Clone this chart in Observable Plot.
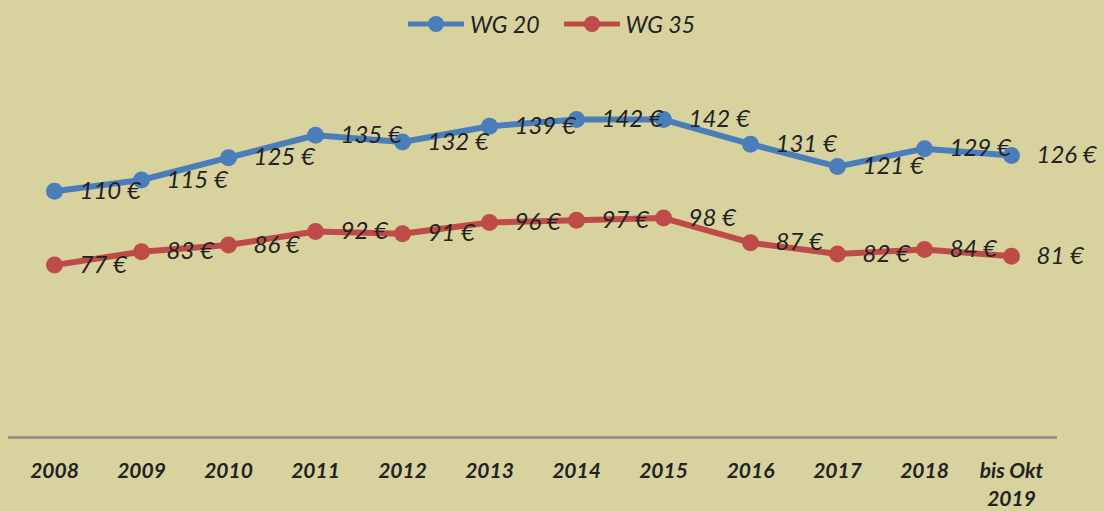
<!DOCTYPE html>
<html><head><meta charset="utf-8">
<script src="https://cdn.jsdelivr.net/npm/d3@7"></script>
<script src="https://cdn.jsdelivr.net/npm/@observablehq/plot@0.6"></script>
<style>
html,body{margin:0;padding:0;background:#d8d29e;}
#wrap{position:relative;width:1104px;height:511px;overflow:hidden;}
#legend{position:absolute;top:10px;left:408px;display:flex;align-items:center;font-family:Lato,sans-serif;font-style:italic;font-size:23px;color:#222;}
#legend .it{display:flex;align-items:center;margin-right:24px;}
#legend svg{margin-right:6px;}
</style></head>
<body><div id="wrap"><div id="legend"></div></div>
<script>
const years = ["2008","2009","2010","2011","2012","2013","2014","2015","2016","2017","2018","bis Okt\n2019"];
const wg20 = [110,115,125,135,132,139,142,142,131,121,129,126];
const wg35 = [77,83,86,92,91,96,97,98,87,82,84,81];
const seriesNames = ["WG 20","WG 35"];
const seriesColors = ["#4a7ebb","#be4b48"];

const data = [];
[wg20, wg35].forEach((vals, s) => vals.forEach((v, i) => data.push({series: seriesNames[s], year: years[i], value: v})));

const chart = Plot.plot({
  width: 1104, height: 511,
  marginLeft: 8, marginRight: 47, marginTop: 34, marginBottom: 74,
  style: {background: "transparent", fontFamily: "Lato, sans-serif"},
  x: {type: "point", domain: years, padding: 0.5},
  y: {domain: [0, 180], axis: null},
  color: {domain: seriesNames, range: seriesColors},
  marks: [
    Plot.ruleY([0], {stroke: "#8a8a8a", strokeWidth: 2.5}),
    Plot.axisX({tickSize: 0, tickPadding: 20, fontSize: 21, fontWeight: "bold", fontStyle: "italic", fill: "#222", lineHeight: 1.35, label: null}),
    Plot.line(data, {x: "year", y: "value", z: "series", stroke: "series", strokeWidth: 6}),
    Plot.dot(data, {x: "year", y: "value", fill: "series", r: 8.5}),
    Plot.text(data, {x: "year", y: "value", text: d => d.value + " €", dx: 25, textAnchor: "start", fontSize: 24, fontStyle: "italic", fill: "#222"})
  ]
});
document.getElementById("wrap").appendChild(chart);

const lg = document.getElementById("legend");
seriesNames.forEach((n, i) => {
  const it = document.createElement("div"); it.className = "it";
  it.innerHTML = `<svg width="56" height="20"><line x1="1" x2="55" y1="10" y2="10" stroke="${seriesColors[i]}" stroke-width="5" stroke-linecap="round"/><circle cx="28" cy="10" r="8" fill="${seriesColors[i]}"/></svg><span>${n}</span>`;
  lg.appendChild(it);
});
</script></body></html>
